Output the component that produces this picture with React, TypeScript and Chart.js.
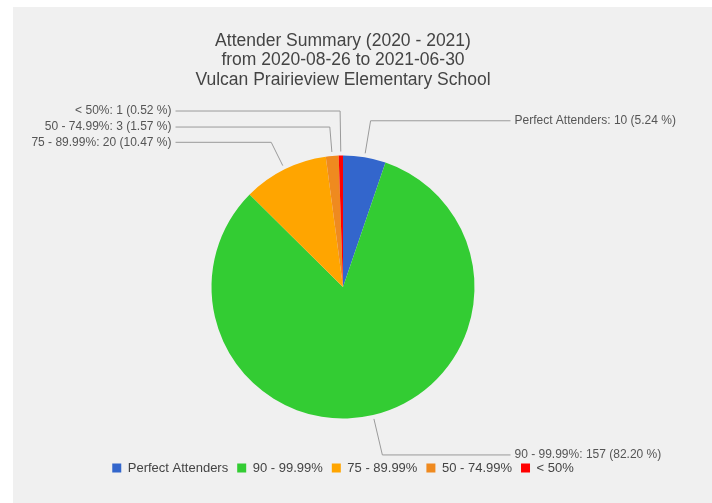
import React, { useEffect, useRef } from "react";
import { Chart, registerables } from "chart.js";

Chart.register(...registerables);

const categories = ["Perfect Attenders", "90 - 99.99%", "75 - 89.99%", "50 - 74.99%", "< 50%"];
const counts = [10, 157, 20, 3, 1];
const sliceColors = ["#3366cc", "#33cc33", "#ffa500", "#ef8a1f", "#ff0000"];
const titleLines = [
  "Attender Summary (2020 - 2021)",
  "from 2020-08-26 to 2021-06-30",
  "Vulcan Prairieview Elementary School",
];
// how far beyond the rim each leader line bends (px)
const leaderBend = [37, 41, 30, 29, 44.5];

const FONT = "'Liberation Sans', Arial, sans-serif";

const leaderLabels = {
  id: "leaderLabels",
  afterDatasetsDraw(chart: any) {
    const ctx = chart.ctx;
    const meta = chart.getDatasetMeta(0);
    const data = chart.data.datasets[0].data as number[];
    const total = data.reduce((a, b) => a + b, 0);
    ctx.save();
    ctx.font = `12px ${FONT}`;
    ctx.textBaseline = "middle";
    meta.data.forEach((arc: any, i: number) => {
      const { x: cx, y: cy, startAngle, endAngle, outerRadius: r } = arc.getProps(
        ["x", "y", "startAngle", "endAngle", "outerRadius"],
        true
      );
      const mid = (startAngle + endAngle) / 2;
      const cos = Math.cos(mid);
      const sin = Math.sin(mid);
      const x0 = cx + cos * (r + 4);
      const y0 = cy + sin * (r + 4);
      const rb = r + leaderBend[i];
      const x1 = cx + cos * rb;
      const y1 = cy + sin * rb;
      const right = cos >= 0;
      const xEnd = right ? cx + r + 36 : cx - r - 36;
      const xText = right ? cx + r + 40 : cx - r - 40;
      ctx.strokeStyle = "#9a9a9a";
      ctx.lineWidth = 1;
      ctx.beginPath();
      ctx.moveTo(x0, y0);
      ctx.lineTo(x1, y1);
      ctx.lineTo(xEnd, y1);
      ctx.stroke();
      const pct = ((data[i] / total) * 100).toFixed(2);
      ctx.fillStyle = "#555555";
      ctx.textAlign = right ? "left" : "right";
      ctx.fillText(`${chart.data.labels[i]}: ${data[i]} (${pct} %)`, xText, y1);
    });
    ctx.restore();
  },
};

export default function App() {
  const ref = useRef<HTMLCanvasElement>(null);
  useEffect(() => {
    if (!ref.current) return;
    const chart = new Chart(ref.current, {
      type: "pie",
      data: {
        labels: categories,
        datasets: [
          {
            data: counts,
            backgroundColor: sliceColors,
            borderWidth: 0,
          },
        ],
      },
      options: {
        responsive: false,
        animation: false,
        devicePixelRatio: 1,
        radius: 131.5,
        layout: { padding: { left: 0, right: 39, top: 0, bottom: 18.5 } },
        plugins: {
          tooltip: { enabled: false },
          title: {
            display: true,
            text: titleLines,
            color: "#444444",
            font: { family: FONT, size: 17.5, weight: "normal", lineHeight: 1.12 },
            padding: { top: 24.2, bottom: 31.5 },
          },
          legend: {
            position: "bottom",
            labels: {
              boxWidth: 9,
              boxHeight: 9,
              padding: 9,
              color: "#444444",
              font: { family: FONT, size: 13 },
            },
          },
        },
      } as any,
      plugins: [leaderLabels],
    });
    return () => chart.destroy();
  }, []);
  return (
    <div style={{ position: "absolute", left: 13, top: 7, width: 699, height: 496, background: "#f0f0f0" }}>
      <canvas ref={ref} width={699} height={496} style={{ display: "block" }} />
    </div>
  );
}
